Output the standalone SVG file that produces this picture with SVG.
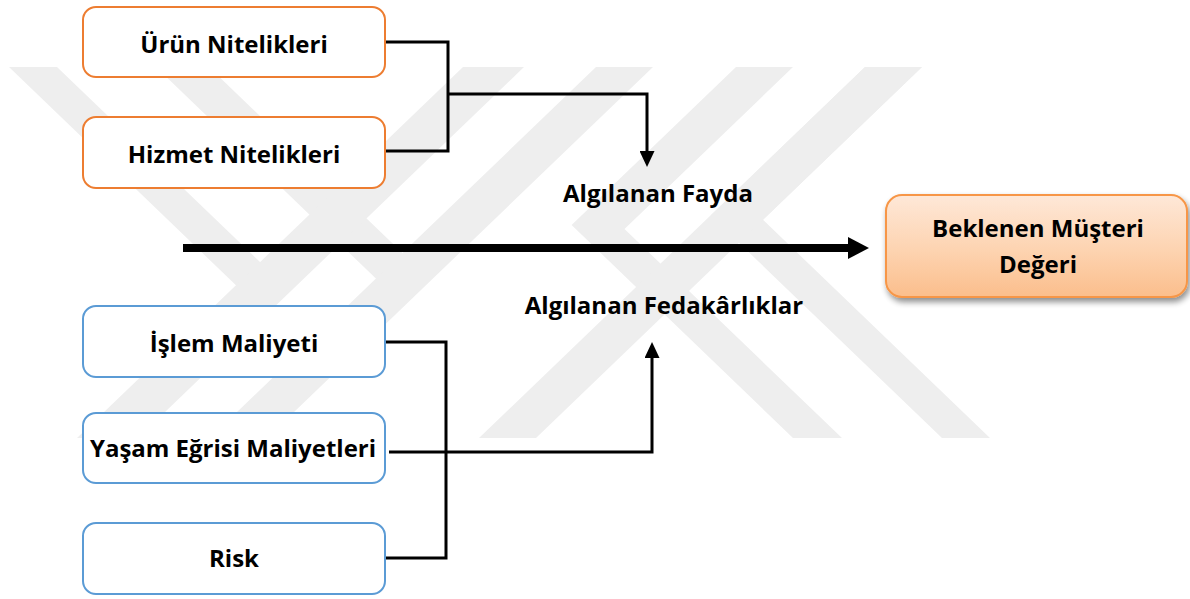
<svg xmlns="http://www.w3.org/2000/svg" width="1190" height="599" viewBox="0 0 1190 599">
  <defs>
    <style>
      .lbl { font-family: "Open Sans", "Noto Sans", "Liberation Sans", sans-serif; font-weight: 700; font-size: 24px; fill: #000; text-anchor: middle; }
      .box-o { fill: #fff; stroke: #ED7D31; stroke-width: 2; }
      .box-b { fill: #fff; stroke: #5B9BD5; stroke-width: 2; }
      .wire { fill: none; stroke: #000; stroke-width: 3; }
      .mark { fill: #eeeeee; }
    </style>
    <linearGradient id="peach" x1="0" y1="0" x2="0" y2="1">
      <stop offset="0" stop-color="#FEE8D8"/>
      <stop offset="0.55" stop-color="#FDD3B0"/>
      <stop offset="1" stop-color="#FBBE8C"/>
    </linearGradient>
    <filter id="shadow" x="-10%" y="-10%" width="125%" height="140%">
      <feGaussianBlur in="SourceAlpha" stdDeviation="3"/>
      <feOffset dx="2" dy="4" result="b"/>
      <feComponentTransfer><feFuncA type="linear" slope="0.45"/></feComponentTransfer>
      <feMerge><feMergeNode/><feMergeNode in="SourceGraphic"/></feMerge>
    </filter>
    <marker id="tipS" markerUnits="userSpaceOnUse" markerWidth="16" markerHeight="15" refX="2" refY="7.5" orient="auto">
      <path d="M0,0 L16,7.5 L0,15 z" fill="#000"/>
    </marker>
    <marker id="tipL" markerUnits="userSpaceOnUse" markerWidth="21" markerHeight="22" refX="2" refY="11" orient="auto">
      <path d="M0,0 L21,11 L0,22 z" fill="#000"/>
    </marker>
  </defs>

  <rect width="1190" height="599" fill="#fff"/>

  <!-- faint background emblem -->
  <g id="emblem">
    <polygon class="mark" points="9,67 57,67 260,262 266.5,314.6"/>
    <polygon class="mark" points="156,67 209,67 402.5,253 404.5,306"/>
    <polygon class="mark" points="463,67 524,67 138,438 77,438"/>
    <polygon class="mark" points="596,67 653,67 267,438 210,438"/>
    <polygon class="mark" points="736,67 793,67 624.5,229 842,438 793,438 571.6,225"/>
    <polygon class="mark" points="865,67 922,67 763,219.8 990,438 942,438 710.6,215.5"/>
    <polygon class="mark" points="865,67 922,67 536,438 479,438"/>
  </g>

  <!-- connectors -->
  <g id="connectors">
    <path class="wire" d="M385,42 H448 V151 H385"/>
    <path class="wire" d="M448,94 H647 V153" marker-end="url(#tipS)"/>
    <path class="wire" d="M385,342 H446 V558 H385"/>
    <path class="wire" d="M389,452 H652 V356" marker-end="url(#tipS)"/>
    <path d="M183,248 H850" fill="none" stroke="#000" stroke-width="8" marker-end="url(#tipL)"/>
  </g>

  <!-- benefit inputs -->
  <g id="urun">
    <rect class="box-o" x="83" y="7" width="302" height="70" rx="13"/>
    <text class="lbl" x="234" y="53">Ürün Nitelikleri</text>
  </g>
  <g id="hizmet">
    <rect class="box-o" x="83" y="117" width="302" height="71" rx="13"/>
    <text class="lbl" x="234" y="163">Hizmet Nitelikleri</text>
  </g>

  <!-- sacrifice inputs -->
  <g id="islem">
    <rect class="box-b" x="83" y="306" width="302" height="71" rx="13"/>
    <text class="lbl" x="234" y="352">İşlem Maliyeti</text>
  </g>
  <g id="yasam">
    <rect class="box-b" x="83" y="413" width="302" height="70" rx="13"/>
    <text class="lbl" x="233" y="457">Yaşam Eğrisi Maliyetleri</text>
  </g>
  <g id="risk">
    <rect class="box-b" x="83" y="523" width="302" height="71" rx="13"/>
    <text class="lbl" x="234" y="567">Risk</text>
  </g>

  <!-- middle labels -->
  <g id="fayda">
    <text class="lbl" x="658" y="202">Algılanan Fayda</text>
  </g>
  <g id="fedakarlik">
    <text class="lbl" x="664" y="314">Algılanan Fedakârlıklar</text>
  </g>

  <!-- result -->
  <g id="deger">
    <rect x="886" y="195" width="301" height="102" rx="16" fill="url(#peach)" stroke="#F79646" stroke-width="2" filter="url(#shadow)"/>
    <text class="lbl" x="1038" y="237">Beklenen Müşteri</text>
    <text class="lbl" x="1038" y="273">Değeri</text>
  </g>
</svg>
